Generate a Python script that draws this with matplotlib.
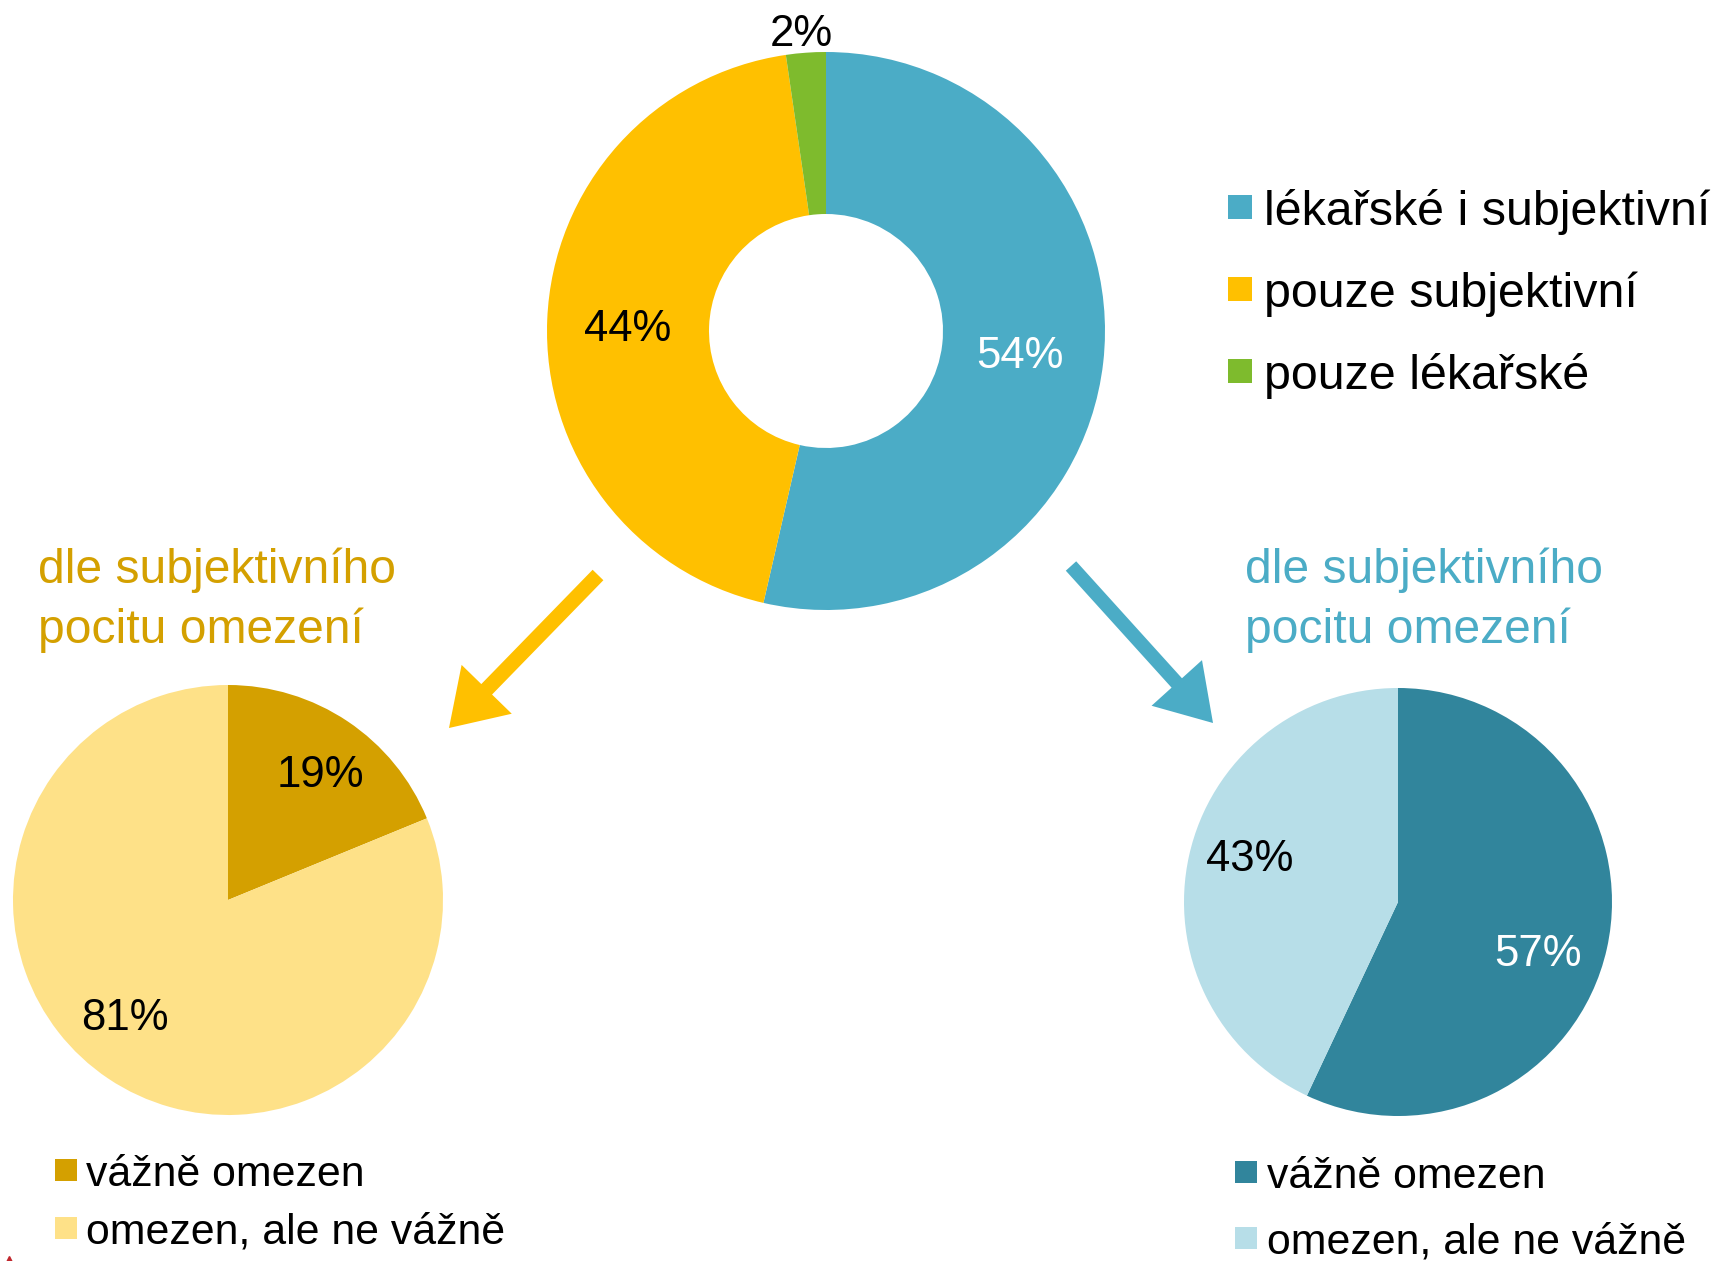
import numpy as np
import matplotlib
matplotlib.use('Agg')
import matplotlib.pyplot as plt
from matplotlib.patches import FancyArrow, Rectangle

plt.rcParams['font.family'] = ['Liberation Sans', 'DejaVu Sans']

# data
main_labels = ['lékařské i subjektivní', 'pouze subjektivní', 'pouze lékařské']
main_vals = [53.6, 44.1, 2.3]
main_colors = ['#4BACC6', '#FFC000', '#7EBB2D']

sub_labels = ['vážně omezen', 'omezen, ale ne vážně']
left_vals = [18.8, 81.2]
left_colors = ['#D4A000', '#FEE188']
right_vals = [57, 43]
right_colors = ['#31859C', '#B7DEE8']

title_txt = 'dle subjektivního\npocitu omezení'

W, H = 1713, 1261
fig = plt.figure(figsize=(W / 100, H / 100), dpi=100)
ax = fig.add_axes([0, 0, 1, 1])


def Y(py):
    # pixel row (from top) -> data y
    return H - py


def pct(p):
    return '%.0f%%' % p


def place(txt, cx, cy, r, ang, dist):
    th = np.deg2rad(ang)
    txt.set_position((cx + dist * r * np.cos(th), Y(cy) + dist * r * np.sin(th)))


# main donut
R0 = 279
w0, t0, a0 = ax.pie(main_vals, colors=main_colors, startangle=90, counterclock=False,
                    center=(826, Y(331)), radius=R0, autopct=pct, pctdistance=0.70,
                    wedgeprops=dict(width=162, linewidth=0),
                    textprops=dict(fontsize=31.5, color='black'))
a0[0].set_color('white')
place(a0[0], 826, 331, R0, -7.5, 0.70)
place(a0[1], 826, 331, R0, 179.5, 0.71)
place(a0[2], 826, 331, R0, 94.8, 1.065)

# left pie
R1 = 215
w1, t1, a1 = ax.pie(left_vals, colors=left_colors, startangle=90, counterclock=False,
                    center=(228, Y(900)), radius=R1, autopct=pct, pctdistance=0.73,
                    wedgeprops=dict(linewidth=0),
                    textprops=dict(fontsize=31.5, color='black'))
place(a1[0], 228, 900, R1, 53.5, 0.72)
place(a1[1], 228, 900, R1, -131, 0.73)

# right pie
R2 = 214
w2, t2, a2 = ax.pie(right_vals, colors=right_colors, startangle=90, counterclock=False,
                    center=(1398, Y(902)), radius=R2, autopct=pct, pctdistance=0.71,
                    wedgeprops=dict(linewidth=0),
                    textprops=dict(fontsize=31.5, color='black'))
a2[0].set_color('white')
place(a2[0], 1398, 902, R2, -20.5, 0.70)
place(a2[1], 1398, 902, R2, 164, 0.72)

# arrows
ax.add_patch(FancyArrow(598, Y(575), 449 - 598, -(728 - 575), width=15, head_width=70,
                        head_length=54, length_includes_head=True, color='#FFC000', lw=0))
ax.add_patch(FancyArrow(1071, Y(566), 1213 - 1071, -(723 - 566), width=14, head_width=68,
                        head_length=54, length_includes_head=True, color='#4BACC6', lw=0))

# titles
ax.text(38, Y(600), title_txt, fontsize=34.6, color='#D4A000', ha='left', va='center',
        linespacing=1.42)
ax.text(1245, Y(600), title_txt, fontsize=34.6, color='#4BACC6', ha='left', va='center',
        linespacing=1.42)

# top legend
for i, (lab, c) in enumerate(zip(main_labels, main_colors)):
    yc = Y(207 + i * 82)
    ax.add_patch(Rectangle((1228, yc - 12), 24, 24, color=c, lw=0))
    ax.text(1264, yc, lab, fontsize=34.8, ha='left', va='center_baseline')

# bottom legends
for i, (lab, c) in enumerate(zip(sub_labels, left_colors)):
    yc = Y(1170 + i * 58)
    ax.add_patch(Rectangle((55, yc - 11), 22, 22, color=c, lw=0))
    ax.text(86, yc, lab, fontsize=30.8, ha='left', va='center_baseline')
for i, (lab, c) in enumerate(zip(sub_labels, right_colors)):
    yc = Y(1172 + i * 66)
    ax.add_patch(Rectangle((1235, yc - 11), 22, 22, color=c, lw=0))
    ax.text(1267, yc, lab, fontsize=30.8, ha='left', va='center_baseline')

# tiny red mark at the corner
ax.plot([9], [Y(1262)], marker='^', color='#C0272D', markersize=9, clip_on=False)

ax.set_xlim(0, W)
ax.set_ylim(0, H)
ax.set_aspect('auto')
ax.axis('off')

fig.savefig('out.png', dpi=100)
